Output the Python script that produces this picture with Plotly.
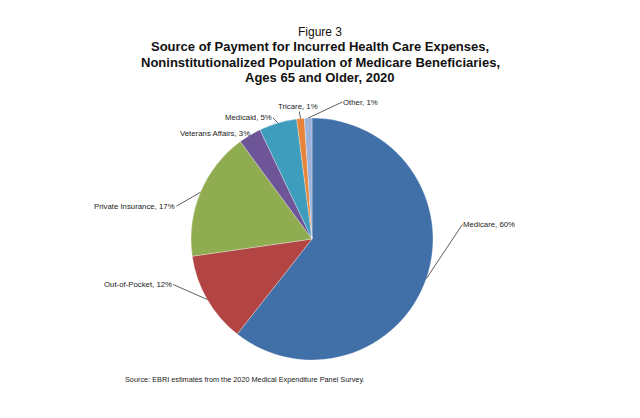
import math
import plotly.graph_objects as go

categories = ["Medicare", "Out-of-Pocket", "Private Insurance", "Veterans Affairs",
              "Medicaid", "Tricare", "Other"]
values = [60, 12, 17, 3, 5, 1, 1]
colors = ["#4170A8", "#B24443", "#8FAD50", "#6D5597", "#3E9DBC", "#E68539", "#9CB2DA"]

W, H = 640, 418
CX, CY, R = 312, 239, 121  # pie centre / radius in pixels (layout)

# label offsets (pixels from slice-edge point to text anchor) and anchors - styling only
label_style = {
    "Medicare": dict(dx=36, dy=-54, xanchor="left", arrow=True),
    "Out-of-Pocket": dict(dx=-34, dy=-15, xanchor="right", arrow=True),
    "Private Insurance": dict(dx=-24, dy=14, xanchor="right", arrow=True),
    "Veterans Affairs": dict(dx=2, dy=-2, xanchor="right", arrow=False),
    "Medicaid": dict(dx=-5, dy=-5, xanchor="right", arrow=True),
    "Tricare": dict(dx=-2, dy=-12, xanchor="center", arrow=True),
    "Other": dict(dx=34, dy=-16, xanchor="left", arrow=True),
}

fig = go.Figure()
fig.add_trace(go.Pie(
    labels=categories, values=values, sort=False, direction="clockwise", rotation=0,
    marker=dict(colors=colors, line=dict(color="white", width=0.3)),
    textinfo="none", hoverinfo="label+percent", showlegend=False,
    domain=dict(x=[(CX - R) / W, (CX + R) / W], y=[(H - CY - R) / H, (H - CY + R) / H]),
))

total = sum(values)
cum = 0.0
annotations = []
label_font = dict(family="Liberation Sans, Arial", size=7.8, color="#222")
for cat, v in zip(categories, values):
    mid = (cum + v / 2) / total * 2 * math.pi
    cum += v
    px = CX + R * math.sin(mid)
    py = CY - R * math.cos(mid)
    st = label_style[cat]
    text = f"{cat}, {v}%"
    if st["arrow"]:
        annotations.append(dict(
            x=px / W, y=1 - py / H, xref="paper", yref="paper",
            text=text, showarrow=True, arrowhead=0, arrowwidth=0.8, arrowcolor="#333",
            ax=st["dx"], ay=st["dy"], xanchor=st["xanchor"], yanchor="middle",
            font=label_font, standoff=0, borderpad=0,
        ))
    else:
        annotations.append(dict(
            x=(px + st["dx"]) / W, y=1 - (py + st["dy"]) / H, xref="paper", yref="paper",
            text=text, showarrow=False, xanchor=st["xanchor"], yanchor="middle",
            font=label_font,
        ))

title_font = "Liberation Sans, Arial"
annotations += [
    dict(x=0.5, y=1 - 32 / H, xref="paper", yref="paper", showarrow=False,
         text="Figure 3", font=dict(family=title_font, size=12, color="#111"), yanchor="middle"),
    dict(x=0.5, y=1 - 47 / H, xref="paper", yref="paper", showarrow=False,
         text="<b>Source of Payment for Incurred Health Care Expenses,</b>",
         font=dict(family=title_font, size=13, color="#111"), yanchor="middle"),
    dict(x=0.5, y=1 - 62 / H, xref="paper", yref="paper", showarrow=False,
         text="<b>Noninstitutionalized Population of Medicare Beneficiaries,</b>",
         font=dict(family=title_font, size=13, color="#111"), yanchor="middle"),
    dict(x=0.5, y=1 - 77 / H, xref="paper", yref="paper", showarrow=False,
         text="<b>Ages 65 and Older, 2020</b>",
         font=dict(family=title_font, size=13, color="#111"), yanchor="middle"),
    dict(x=123 / W, y=1 - 379 / H, xref="paper", yref="paper", showarrow=False,
         xanchor="left", yanchor="middle",
         text="Source: EBRI estimates from the 2020 Medical Expenditure Panel Survey.",
         font=dict(family=title_font, size=7.3, color="#222")),
]

fig.update_layout(
    width=W, height=H, margin=dict(l=0, r=0, t=0, b=0),
    paper_bgcolor="white", plot_bgcolor="white",
    annotations=annotations,
)
fig.write_html("out.html")
